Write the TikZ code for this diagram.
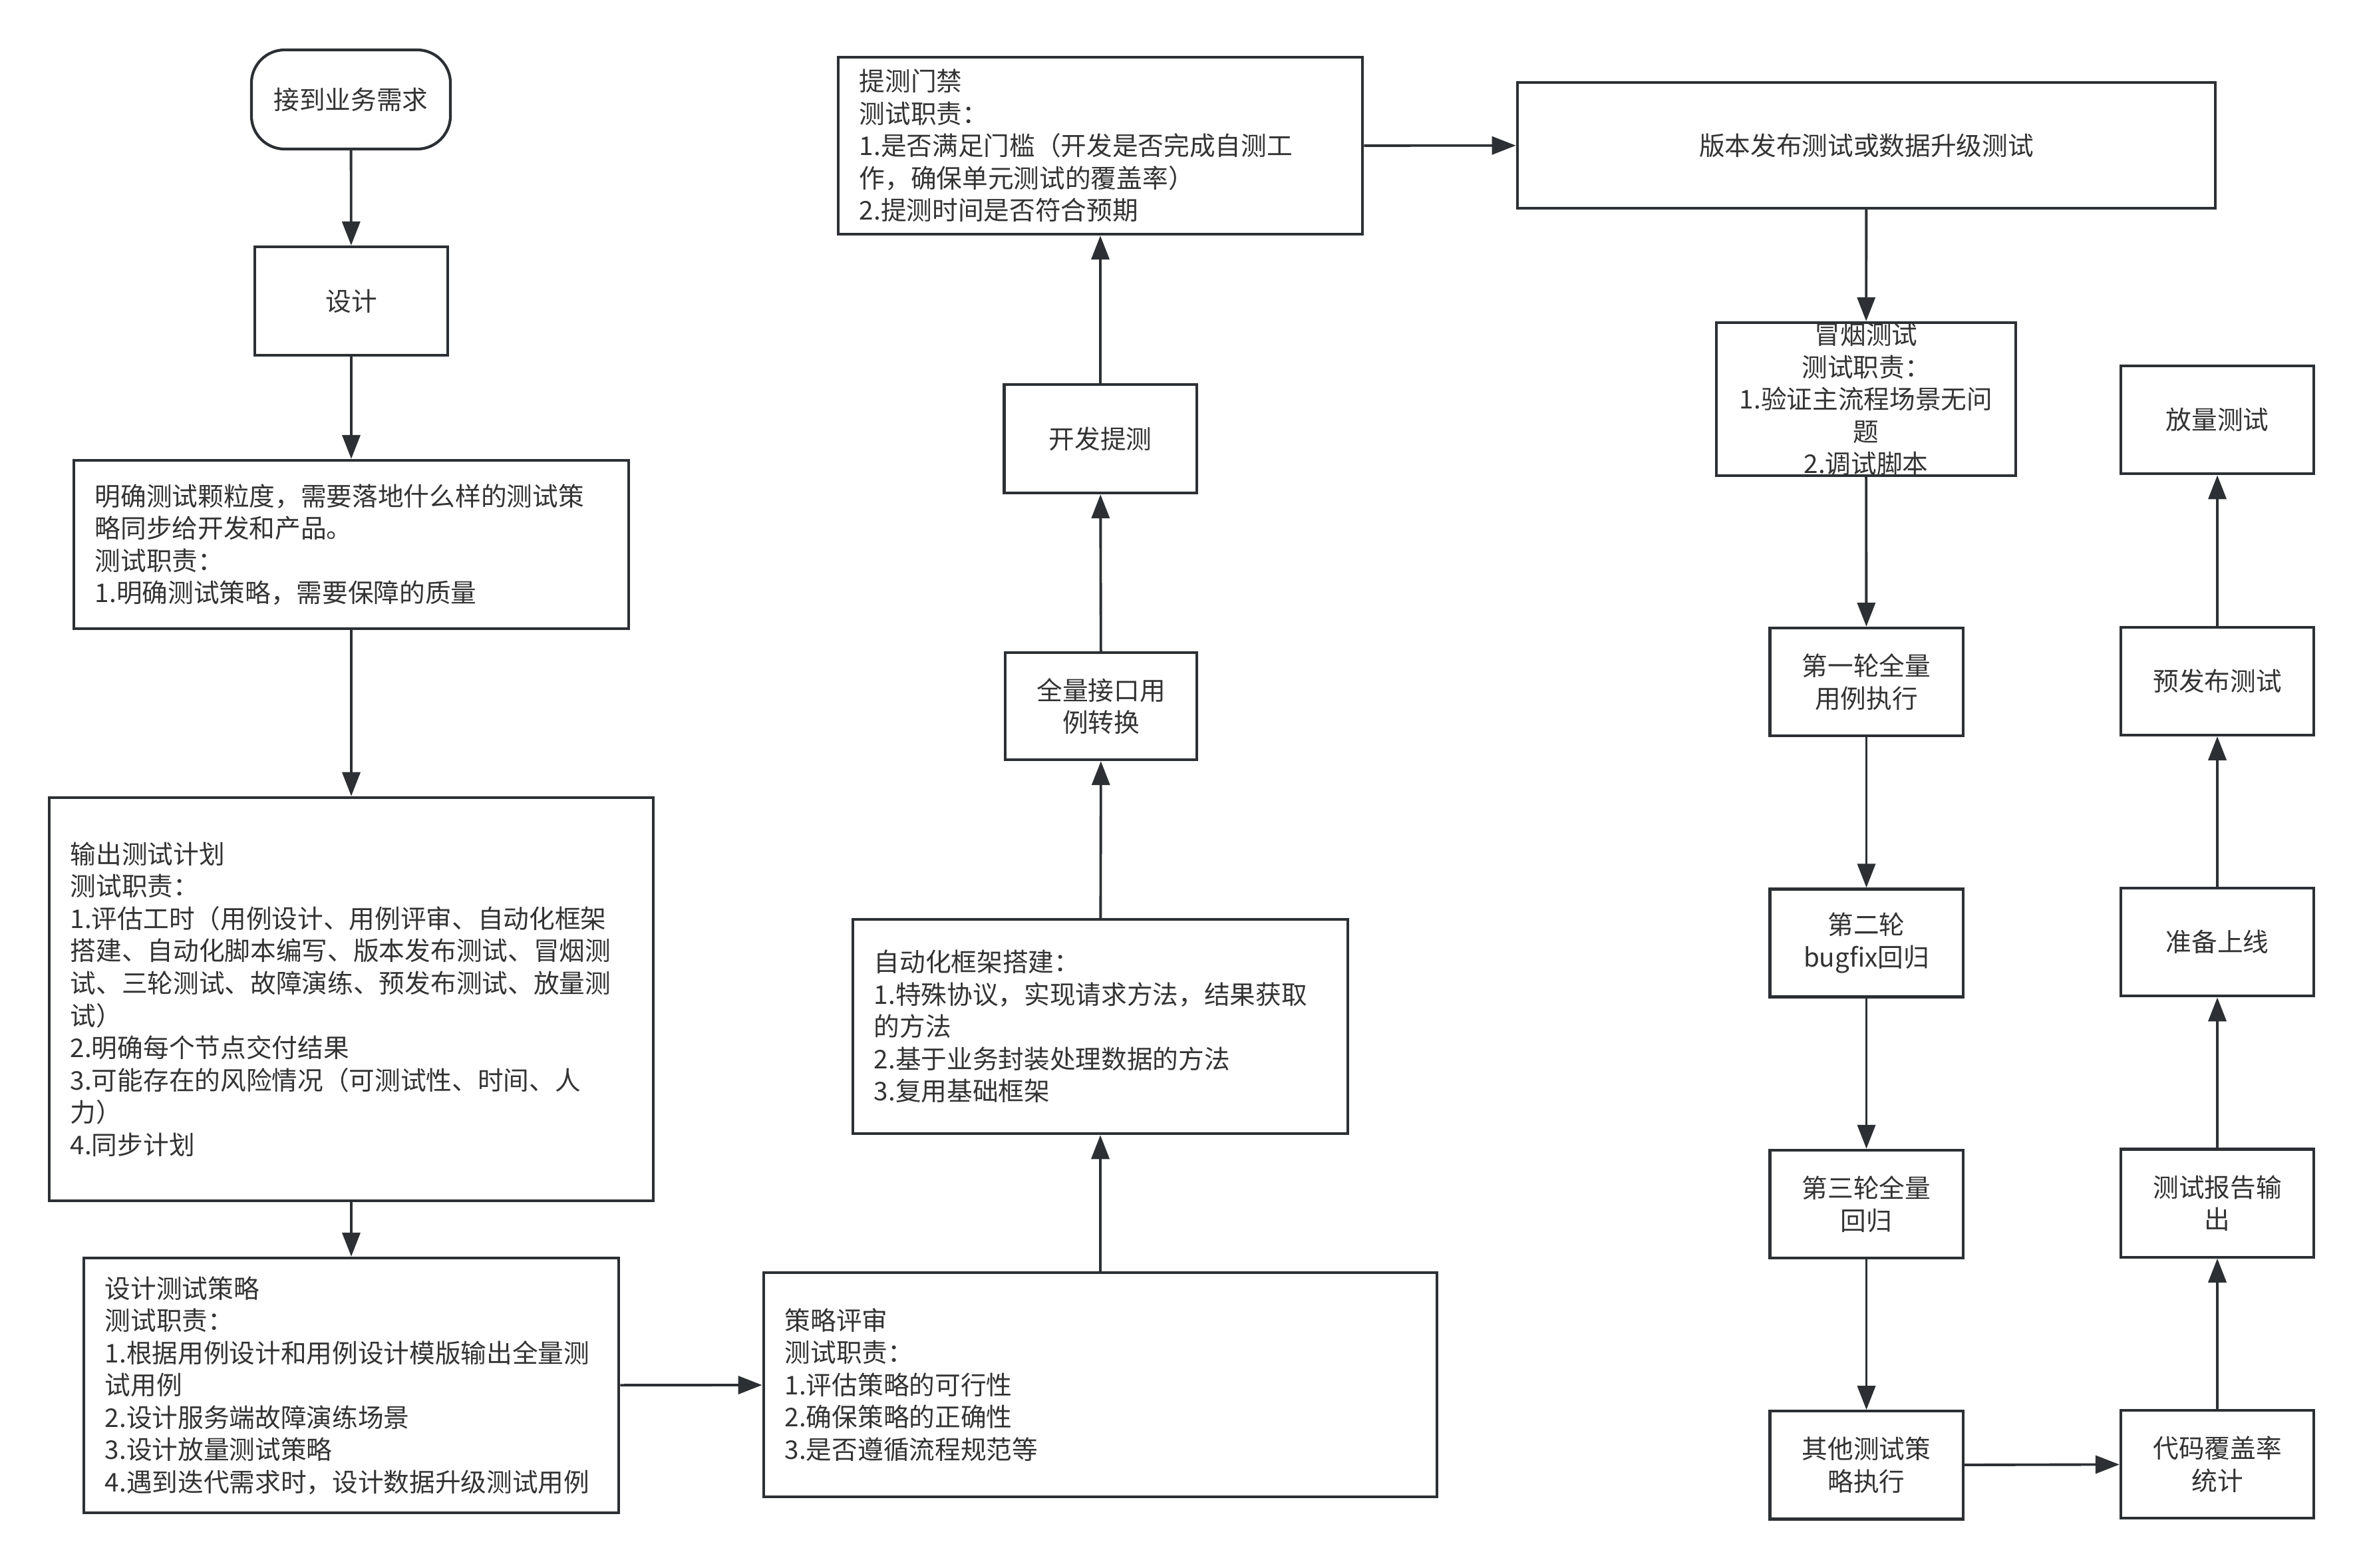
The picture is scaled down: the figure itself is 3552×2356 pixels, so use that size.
\documentclass[tikz,border=0pt]{standalone}
\usepackage{fontspec}
\setmainfont{Noto Sans CJK SC}
\usepackage{tikz}
\usetikzlibrary{positioning,arrows.meta}
\usepackage{xcolor}
\definecolor{FlowLine}{RGB}{44,48,52}
\definecolor{FlowText}{RGB}{51,51,51}

\begin{document}
\begin{tikzpicture}[
x=0.01cm,y=-0.01cm,
node distance=2.26cm,
box/.style={rectangle,draw=FlowLine,line width=1.2pt,text=FlowText,
minimum width=2.9cm,minimum height=1.62cm,align=center,inner xsep=0.32cm,inner ysep=0pt,
font=\fontsize{11pt}{13.8pt}\selectfont},
note/.style={box,align=left},
arrow/.style={-{Triangle[length=3.6mm,width=2.7mm]},line width=1.1pt,draw=FlowLine}
]
\useasboundingbox (0,0) rectangle (3552,2356);
\node[box,minimum width=2.99cm,minimum height=1.49cm,rounded corners=0.5cm] (start) at (527.5,149.5) {接到业务需求};
\node[box,minimum height=1.63cm] (design) at (528,452.5) {设计};
\node[note,text width=7.70cm,minimum height=2.53cm] (scope) at (528,818.5) {明确测试颗粒度，需要落地什么样的测试策\\略同步给开发和产品。\\测试职责：\\1.明确测试策略，需要保障的质量};
\node[note,text width=8.44cm,minimum height=6.06cm] (plan) at (528,1502) {输出测试计划\\测试职责：\\1.评估工时（用例设计、用例评审、自动化框架\\搭建、自动化脚本编写、版本发布测试、冒烟测\\试、三轮测试、故障演练、预发布测试、放量测\\试）\\2.明确每个节点交付结果\\3.可能存在的风险情况（可测试性、时间、人\\力）\\4.同步计划};
\node[note,text width=7.40cm,minimum height=3.83cm] (strategy) at (528,2082.5) {设计测试策略\\测试职责：\\1.根据用例设计和用例设计模版输出全量测\\试用例\\2.设计服务端故障演练场景\\3.设计放量测试策略\\4.遇到迭代需求时，设计数据升级测试用例};
\node[note,text width=9.48cm,minimum height=3.37cm] (review) at (1654,2081.5) {策略评审\\测试职责：\\1.评估策略的可行性\\2.确保策略的正确性\\3.是否遵循流程规范等};
\node[note,text width=6.80cm,minimum height=3.22cm] (frame) at (1654,1543) {自动化框架搭建：\\1.特殊协议，实现请求方法，结果获取\\的方法\\2.基于业务封装处理数据的方法\\3.复用基础框架};
\node[box,minimum width=2.88cm,minimum height=1.61cm] (convert) at (1655,1061.5) {全量接口用\\例转换};
\node[box,minimum width=2.89cm,minimum height=1.63cm] (submit) at (1654,659.5) {开发提测};
\node[note,text width=7.24cm,minimum height=2.66cm] (gate) at (1654,219) {提测门禁\\测试职责：\\1.是否满足门槛（开发是否完成自测工\\作，确保单元测试的覆盖率）\\2.提测时间是否符合预期};
\node[box,minimum width=10.49cm,minimum height=1.89cm] (release) at (2805.5,218.5) {版本发布测试或数据升级测试};
\node[box,minimum width=4.5cm,minimum height=2.3cm,inner ysep=-0.1cm] (smoke) at (2805,600) {冒烟测试\\测试职责：\\1.验证主流程场景无问\\题\\2.调试脚本};
\node[box] (round1) at (2805.5,1025) {第一轮全量\\用例执行};
\node[box,below=of round1] (round2) {第二轮\\bugfix回归};
\node[box,below=of round2] (round3) {第三轮全量\\回归};
\node[box,below=of round3] (other) {其他测试策\\略执行};
\node[box] (cover) at (3333,2201) {代码覆盖率\\统计};
\node[box,above=of cover] (report) {测试报告输\\出};
\node[box,above=of report] (online) {准备上线};
\node[box,above=of online] (prerelease) {预发布测试};
\node[box,above=of prerelease] (rampup) {放量测试};
\draw[arrow] (start)--(design); \draw[arrow] (design)--(scope); \draw[arrow] (scope)--(plan); \draw[arrow] (plan)--(strategy);
\draw[arrow] (strategy)--(review); \draw[arrow] (review)--(frame); \draw[arrow] (frame)--(convert); \draw[arrow] (convert)--(submit);
\draw[arrow] (submit)--(gate); \draw[arrow] (gate)--(release); \draw[arrow] (release)--(smoke); \draw[arrow] (smoke)--(round1);
\draw[arrow] (round1)--(round2); \draw[arrow] (round2)--(round3); \draw[arrow] (round3)--(other); \draw[arrow] (other)--(cover);
\draw[arrow] (cover)--(report); \draw[arrow] (report)--(online); \draw[arrow] (online)--(prerelease); \draw[arrow] (prerelease)--(rampup);
\end{tikzpicture}
\end{document}
